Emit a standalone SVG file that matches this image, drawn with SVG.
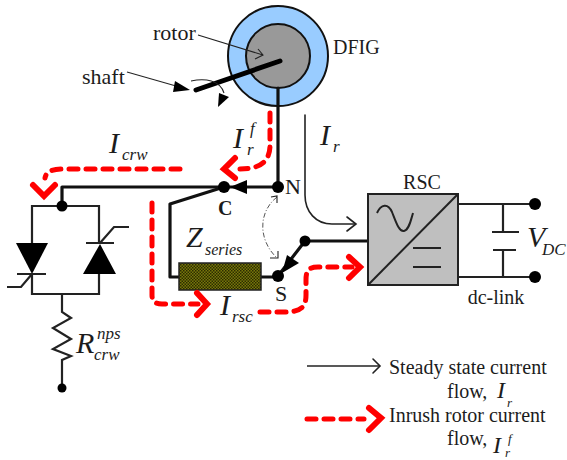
<svg xmlns="http://www.w3.org/2000/svg" width="567" height="460" viewBox="0 0 567 460">
<style>
text{font-family:"Liberation Serif","Times New Roman",serif;fill:#1c1c1c}
.t{font-size:20px}
.i{font-style:italic}
.big{font-size:30px;font-style:italic}
.sub{font-size:17px;font-style:italic}
.w{fill:none;stroke:#111;stroke-width:3.2;stroke-linecap:round;stroke-linejoin:round}
.m{fill:none;stroke:#222;stroke-width:2.2;stroke-linejoin:miter}
.k{fill:#000;stroke:none}
.thin{fill:none;stroke:#222;stroke-width:1.1}
.flow{fill:none;stroke:#f00;stroke-width:5;stroke-dasharray:9 8;stroke-linecap:round;stroke-linejoin:round}
.head{fill:none;stroke:#f00;stroke-width:6;stroke-linecap:round;stroke-linejoin:miter}
.st{fill:none;stroke:#222;stroke-width:1.6;stroke-linecap:round}
</style>
<defs>
<pattern id="hatch" width="3" height="3" patternUnits="userSpaceOnUse">
<rect width="3" height="3" fill="#77770a"/>
<rect width="1.5" height="1.5" fill="#2c2c00"/>
<rect x="1.5" y="1.5" width="1.5" height="1.5" fill="#2c2c00"/>
</pattern>
</defs>

<g id="dfig">
<circle cx="278" cy="56" r="50" fill="#99ccff" stroke="#111" stroke-width="2"/>
<circle cx="278" cy="56" r="32" fill="#999" stroke="#111" stroke-width="2"/>
<text x="153" y="40" font-size="22">rotor</text>
<text class="t" x="333" y="54">DFIG</text>
</g>

<g id="shaft">
<line x1="280" y1="61" x2="196" y2="90" stroke="#000" stroke-width="5" stroke-linecap="round"/>
<text x="82" y="84" font-size="22">shaft</text>
<path class="thin" d="M191 81C205 78 220 80 224 93"/>
<polygon class="k" points="218,107 219,93 229,97"/>
</g>

<g id="connectors">
<path class="w" d="M278 88V187H224L170 204V277H179"/>
<path class="w" d="M224 187H62V206"/>
<path class="w" d="M261 277H278"/>
<path class="w" d="M278 276L305 241H367"/>
<path class="m" d="M458 204H535M458 277H535"/>
<path class="m" d="M503 204V232M492 232H519M493 250H516M503 250V277"/>
<path class="m" d="M62 206H32V243M32 274V294H99V274M99 243V206H62"/>
<path class="m" d="M62 294V312L71 318L53 328L71 339L53 349L71 356L62 360V388"/>
<path fill="none" stroke="#555" stroke-width="1" stroke-dasharray="5 2 1 2" d="M277 197C258 212 258 240 277 258"/>
<path class="thin" d="M271 197L277 196L277 203M270 258L278 258L278 251"/>
<path class="st" d="M305 115V195C305 212 316 224 332 224H355"/>
<path class="st" d="M347 217L356 224L347 231"/>
<path class="thin" d="M198 35L263 55M258 49L263 55L255 59"/>
<path class="thin" d="M127 72L176 86"/>
<polygon class="k" points="190,90 175,81 173,92"/>
</g>

<g id="switch-c">
<polygon class="k" points="230,187 247,180 247,194"/>
<circle class="k" cx="224" cy="187" r="6"/>
<text x="218" y="215" font-size="20" font-weight="bold">C</text>
</g>
<g id="node-n">
<circle class="k" cx="278" cy="187" r="6"/>
<text x="285" y="194" font-size="22">N</text>
</g>
<g id="switch-s">
<polygon class="k" points="282,273 287,255 299,263"/>
<circle class="k" cx="278" cy="276" r="6"/>
<circle class="k" cx="305" cy="241" r="5.5"/>
<text x="275" y="301" font-size="22">S</text>
</g>

<g id="crowbar">
<circle class="k" cx="62" cy="206" r="5.5"/>
<polygon class="k" points="16,243 48,243 32,274"/>
<path class="m" d="M17 274H46M32 274L21 287H7"/>
<polygon class="k" points="83,274 116,274 100,244"/>
<path class="m" d="M86 243H114M100 243L114 227H129"/>
<circle class="k" cx="62" cy="388" r="4.5"/>
<text x="76" y="353" font-size="30" class="i">R</text>
<text x="97" y="339" font-size="17" class="i">nps</text>
<text x="94" y="360" font-size="17" class="i">crw</text>
</g>

<g id="zseries">
<rect x="179" y="263" width="82" height="27" fill="url(#hatch)" stroke="#222" stroke-width="1.5"/>
<text x="186" y="247" font-size="30" class="i">Z</text>
<text x="205" y="255" font-size="16" class="i">series</text>
</g>

<g id="rsc">
<rect x="368" y="194" width="90" height="91" fill="#bfbfbf" stroke="#222" stroke-width="2"/>
<line x1="368" y1="285" x2="458" y2="194" stroke="#222" stroke-width="2"/>
<path fill="none" stroke="#222" stroke-width="2" d="M377 213C381 204 388 203 392 212C396 222 399 232 404 231C409 230 411 220 413 213"/>
<path class="m" d="M413 248H441M413 267H441"/>
<text class="t" x="422" y="189" text-anchor="middle">RSC</text>
</g>

<g id="dc-link">
<circle class="k" cx="535" cy="204" r="6"/>
<circle class="k" cx="535" cy="277" r="6"/>
<text x="527" y="247" font-size="30" class="i">V</text>
<text x="542" y="255" font-size="17" class="i">DC</text>
<text class="t" x="496" y="304" text-anchor="middle">dc-link</text>
</g>

<g id="flows">
<path class="flow" d="M270 113V145C270 160 262 169 240 169"/>
<path class="head" d="M235 158L224 169L235 178"/>
<path class="flow" d="M180 169H62C52 169 46 172 45 178"/>
<path class="head" d="M33 185L44 196L55 185"/>
<path class="flow" d="M152 203V295C152 302 156 304 162 304H198"/>
<path class="head" d="M197 293L207 304L197 315"/>
<path class="flow" d="M260 312H285C300 312 306 308 306 295V280C306 270 309 267 318 267H352"/>
<path class="head" d="M349 257L360 267L349 278"/>
</g>

<g id="flow-labels">
<text x="109" y="153" class="big">I</text>
<text x="122" y="160" class="sub">crw</text>
<text x="233" y="148" class="big">I</text>
<text x="250" y="134" class="sub">f</text>
<text x="247" y="155" class="sub">r</text>
<text x="320" y="145" class="big">I</text>
<text x="333" y="152" class="sub">r</text>
<text x="220" y="315" class="big">I</text>
<text x="232" y="322" class="sub">rsc</text>
</g>

<g id="legend">
<line x1="307" y1="366" x2="380" y2="366" stroke="#222" stroke-width="1.6"/>
<path class="st" d="M373 359L380 366L373 373"/>
<text class="t" x="389" y="374">Steady state current</text>
<text class="t" x="447" y="398">flow,</text>
<text x="497" y="398" font-size="24" class="i">I</text>
<text x="507" y="407" font-size="13" class="i">r</text>
<path class="flow" d="M307 419H364"/>
<path class="head" d="M369 408L381 418L369 430"/>
<text class="t" x="389" y="422">Inrush rotor current</text>
<text class="t" x="447" y="445">flow,</text>
<text x="493" y="453" font-size="24" class="i">I</text>
<text x="508" y="443" font-size="13" class="i">f</text>
<text x="505" y="457" font-size="13" class="i">r</text>
</g>
</svg>
